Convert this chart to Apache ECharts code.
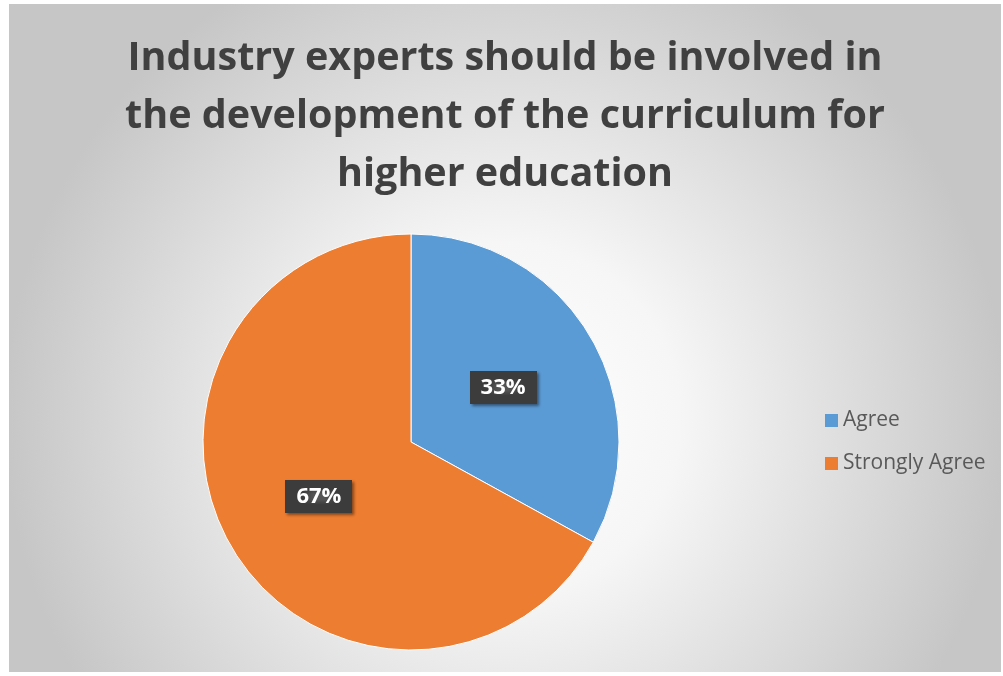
<!DOCTYPE html>
<html><head><meta charset="utf-8">
<script src="https://cdn.jsdelivr.net/npm/echarts@6/dist/echarts.min.js"></script>
<style>
html,body{margin:0;padding:0;background:#fff;}
#c{position:absolute;left:9px;top:4px;width:992px;height:668px;box-sizing:border-box;}
</style></head><body>
<div id="c"></div>
<script>
const titleLines = ['Industry experts should be involved in','the development of the curriculum for','higher education'];
const categories = ['Agree','Strongly Agree'];
const values = [33, 67];
const colors = ['#5B9BD5','#ED7D31'];

const chart = echarts.init(document.getElementById('c'));
// dotted pattern canvas for label boxes
const pc = document.createElement('canvas');
pc.width = 6; pc.height = 6;
const px = pc.getContext('2d');
px.fillStyle = '#3c3c3c'; px.fillRect(0,0,6,6);
px.fillStyle = '#555555'; px.fillRect(2,2,2,2);

chart.setOption({
  backgroundColor: {
    type:'radial', x:0.5, y:0.62, r:0.75,
    colorStops:[{offset:0,color:'#ffffff'},{offset:0.35,color:'#f6f6f6'},{offset:1,color:'#c6c6c6'}]
  },
  title: {
    text: titleLines.join('\n'),
    left: 'center', top: 21,
    textStyle: {fontFamily:'Open Sans', fontWeight:'bold', fontSize:39.5, color:'#404040', lineHeight:58}
  },
  legend: {
    orient:'vertical', left: 811, top: 401,
    itemWidth: 13, itemHeight: 13, itemGap: 22,
    icon:'rect',
    itemStyle:{borderWidth:0},
    textStyle:{fontFamily:'Open Sans', fontSize:21, color:'#595959'},
    data: categories
  },
  series: [{
    type:'pie',
    center:[402, 438],
    radius: 208,
    startAngle: 90,
    clockwise: true,
    color: colors,
    itemStyle:{borderColor:'#ffffff', borderWidth:1},
    label:{
      show:true, position:'inside',
      formatter: p => p.value + '%',
      fontFamily:'Open Sans', fontWeight:'bold', fontSize:22, color:'#ffffff',
      backgroundColor:{image: pc, repeat:'repeat'},
      padding:[6,11,5,11],
      shadowColor:'rgba(0,0,0,0.45)', shadowBlur:3, shadowOffsetX:2, shadowOffsetY:2
    },
    labelLine:{show:false},
    emphasis:{disabled:true},
    animation:false,
    data: categories.map((n,i)=>({name:n, value:values[i]}))
  }],
  animation:false
});
</script>
</body></html>
